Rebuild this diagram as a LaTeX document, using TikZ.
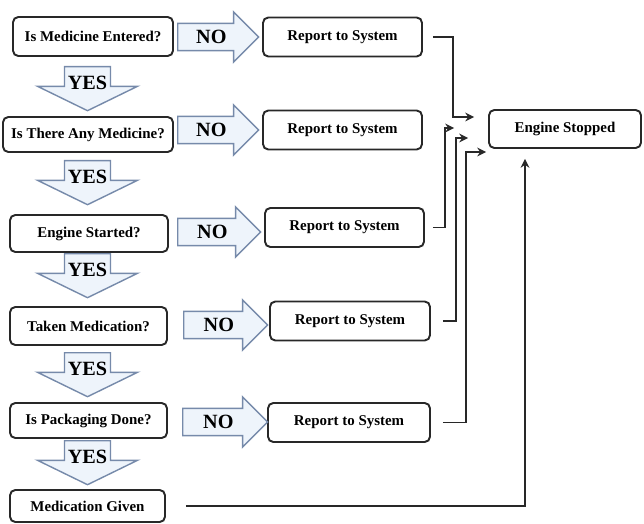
\documentclass[tikz,border=0pt]{standalone}
\usepackage{fontspec}
\setmainfont{Liberation Serif}
\usetikzlibrary{shapes.arrows,arrows.meta,positioning,calc}
\definecolor{arrowline}{RGB}{118,138,170}
\definecolor{arrowfill}{RGB}{238,244,251}
\definecolor{boxline}{RGB}{40,40,40}
\tikzset{
  qbox/.style={
    shape = rectangle,
    draw = boxline,
    line width = 1.1pt,
    rounded corners = 3pt,
    inner sep = 0pt,
    font = \fontsize{8.5}{10}\selectfont\bfseries
  },
  noarrow/.style={
    single arrow,
    draw = arrowline,
    fill = arrowfill,
    line width = 0.8pt,
    single arrow head extend = 0.23cm,
    single arrow tip angle = 90,
    minimum height = 1.62cm,
    inner xsep = 2pt,
    inner ysep = 3.5pt,
    anchor = tail,
    font = \fontsize{11.5}{12}\selectfont\bfseries
  },
  yesarrow/.style={
    noarrow,
    shape border rotate = 270,
    single arrow head extend = 0.54cm,
    single arrow tip angle = 128,
    minimum height = 0.88cm,
    inner xsep = 1.5pt,
    inner ysep = 1.5pt
  },
  link/.style={
    draw = boxline,
    line width = 1.1pt,
    -{Stealth[length=5pt,width=5pt]}
  }
}
\begin{document}
\begin{tikzpicture}[x=0.02cm,y=-0.02cm]
  \useasboundingbox (0,0) rectangle (644,523);
  % questions down the left
  \foreach \n/\x/\y/\w/\h/\txt in {
    1/93/36.5/3.2/0.78/Is Medicine Entered?,
    2/88/134.5/3.4/0.70/Is There Any Medicine?,
    3/89/233.5/3.16/0.74/Engine Started?,
    4/88.5/326/3.14/0.76/Taken Medication?,
    5/88.5/420.5/3.14/0.70/Is Packaging Done?,
    6/87.5/506/3.1/0.64/Medication Given}{
    \node[qbox, minimum width=\w cm, minimum height=\h cm] (q\n) at (\x,\y) {\txt};}
  \foreach \n/\x/\y/\w in {1/342.5/37/3.18, 2/342.5/130/3.18, 3/344.5/227.5/3.18, 4/350/321/3.2, 5/349/422.5/3.24}{
    \node[qbox, minimum width=\w cm, minimum height=0.78cm] (r\n) at (\x,\y) {Report to System};}
  \foreach \n/\x/\y/\l in {1/177/37/1.62, 2/177/130/1.62, 3/177/232/1.66, 4/183/325/1.68, 5/182/422/1.7}{
    \node[noarrow, minimum height=\l cm] (no\n) at (\x,\y) {NO};}
  \foreach \n/\y in {1/66, 2/160, 3/253, 4/352, 5/440}{
    \node[yesarrow] (yes\n) at (87.5,\y) {YES};}
  \node[qbox, minimum width=3.04cm, minimum height=0.76cm] (stop) at (565,129) {Engine Stopped};
  \coordinate (in1) at ($(stop.west)+(-14,-12)$);
  \coordinate (in2) at ($(stop.west)+(-34,-1)$);
  \coordinate (in3) at ($(stop.west)+(-20,9)$);
  \coordinate (in4) at ($(stop.west)+(-2,23)$);
  \coordinate (in5) at ($(stop.south)+(-40,10)$);
  \draw[link] ([xshift=0.2cm]r1.east) -- ++(20,0) |- (in1);
  \draw[link] ([xshift=0.16cm]r3.east) -- ++(12,0) |- (in2);
  \draw[link] ([xshift=0.24cm]r4.east) -- ++(13,0) |- (in3);
  \draw[link] ([xshift=0.24cm]r5.east) -- ++(23,0) |- (in4);
  \draw[link] ([xshift=0.4cm]q6.east) -| (in5);
\end{tikzpicture}
\end{document}
